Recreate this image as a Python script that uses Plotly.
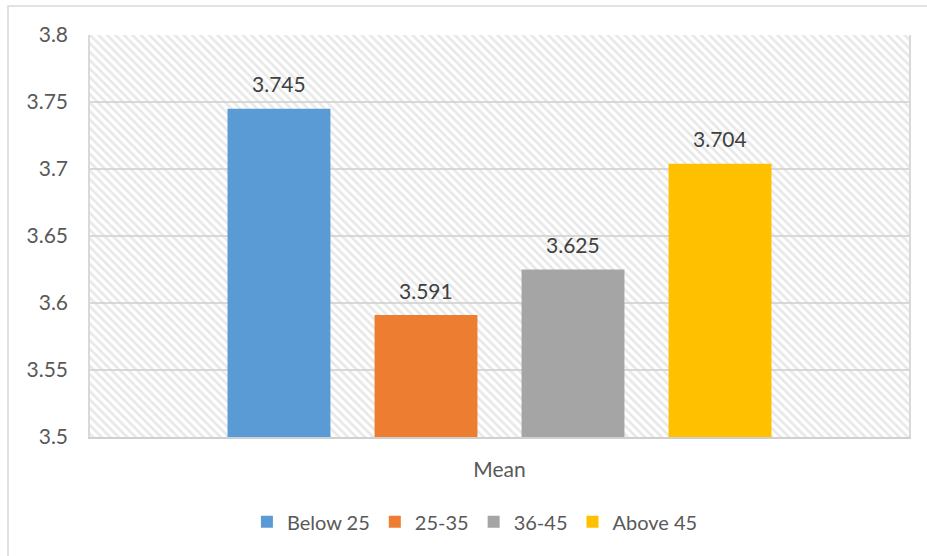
import plotly.graph_objects as go

# ---- data ----
categories = ["Mean"]
series_names = ["Below 25", "25-35", "36-45", "Above 45"]
series_values = [3.745, 3.591, 3.625, 3.704]
series_colors = ["#5B9BD5", "#ED7D31", "#A5A5A5", "#FFC000"]
y_ticks = [3.5, 3.55, 3.6, 3.65, 3.7, 3.75, 3.8]
y_tick_labels = ["3.5", "3.55", "3.6", "3.65", "3.7", "3.75", "3.8"]
Y_MIN, Y_MAX = 3.5, 3.8

FONT = "Lato"
W, H = 927, 556
L, R, T, B = 90, 18, 35, 119
BARGAP, BARGROUPGAP = 0.282, 0.30

fig = go.Figure()

# decorative hatched plot-area background (on hidden base axis, drawn below bars)
fig.add_trace(go.Bar(
    x=[0.5], y=[Y_MAX - Y_MIN], base=[Y_MIN], width=[1.0],
    xaxis="x", yaxis="y",
    marker=dict(color="rgba(0,0,0,0)", line=dict(width=0),
                pattern=dict(shape="\\", size=6, solidity=0.45,
                             fgcolor="#d2d2d2", bgcolor="rgba(0,0,0,0)")),
    showlegend=False, hoverinfo="skip",
))

annotations = []
n = len(series_names)
slot = (1 - BARGAP) / n
for i, (name, val, col) in enumerate(zip(series_names, series_values, series_colors)):
    fig.add_trace(go.Bar(
        x=categories, y=[val], name=name, xaxis="x2", yaxis="y",
        marker=dict(color=col, line=dict(width=0)),
        hovertemplate=f"{name}: %{{y}}<extra></extra>",
    ))
    annotations.append(dict(
        x=(i - (n - 1) / 2) * slot, y=val, xref="x2", yref="y",
        text=f"{val:.3f}", showarrow=False, yanchor="middle", yshift=25,
        font=dict(family=FONT, size=21, color="#404040"),
    ))

fig.update_layout(
    width=W, height=H,
    margin=dict(l=L, r=R, t=T, b=B),
    paper_bgcolor="white", plot_bgcolor="white",
    barmode="group", bargap=BARGAP, bargroupgap=BARGROUPGAP,
    font=dict(family=FONT, color="#595959"),
    xaxis=dict(range=[0, 1], visible=False, fixedrange=True),
    xaxis2=dict(overlaying="x", side="bottom", type="category", range=[-0.5, 0.5],
                showgrid=False, ticks="", showline=True, linecolor="#d0d0d0", linewidth=2,
                ticklabelstandoff=13,
                tickfont=dict(family=FONT, size=21, color="#595959")),
    yaxis=dict(range=[Y_MIN, Y_MAX], tickvals=y_ticks, ticktext=y_tick_labels,
               showgrid=True, gridcolor="#d9d9d9", gridwidth=1.5,
               zeroline=False, showline=True, linecolor="#d9d9d9", linewidth=1.5, mirror=True,
               ticks="", ticklabelstandoff=16,
               tickfont=dict(family=FONT, size=21, color="#595959")),
    legend=dict(orientation="h", x=0.47, xanchor="center", y=-0.211, yanchor="middle",
                font=dict(family=FONT, size=20, color="#595959"),
                traceorder="normal"),
    annotations=annotations,
    shapes=[dict(type="rect", xref="paper", yref="paper",
                 x0=(8 - L) / (W - L - R), x1=(935 - L) / (W - L - R),
                 y0=(H - B - 565) / (H - T - B), y1=(H - B - 6) / (H - T - B),
                 line=dict(color="#d9d9d9", width=1.5), layer="below")],
)

fig.write_html("out.html")
